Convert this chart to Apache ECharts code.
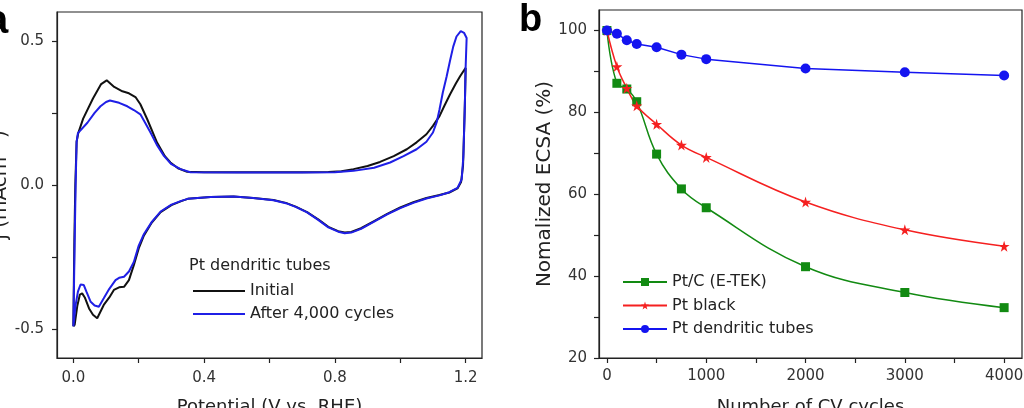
<!DOCTYPE html>
<html>
<head>
<meta charset="utf-8">
<script src="https://cdn.jsdelivr.net/npm/echarts@6/dist/echarts.min.js"></script>
<style>
  html, body { margin: 0; padding: 0; background: #fff; }
  #chart { width: 1024px; height: 408px; }
</style>
</head>
<body>
<div id="chart"></div>
<script>
// panel a: cyclic voltammograms, [potential V, current density mA/cm2]
const initialCurve = [
  [0.000,-0.49],[0.003,-0.20],[0.006,0.00],[0.010,0.15],[0.015,0.18],[0.030,0.23],[0.060,0.30],
  [0.085,0.35],[0.102,0.363],[0.125,0.34],[0.150,0.325],[0.170,0.318],[0.190,0.305],[0.205,0.28],
  [0.226,0.228],[0.256,0.147],[0.280,0.10],[0.297,0.078],[0.320,0.058],[0.348,0.046],[0.400,0.044],
  [0.500,0.044],[0.600,0.044],[0.700,0.044],[0.780,0.045],[0.820,0.048],[0.857,0.055],[0.900,0.066],
  [0.938,0.080],[0.980,0.100],[1.020,0.124],[1.050,0.148],[1.080,0.176],[1.100,0.205],[1.120,0.239],
  [1.135,0.275],[1.152,0.314],[1.170,0.352],[1.183,0.377],[1.195,0.398],[1.200,0.406],
  [1.198,0.30],[1.195,0.18],[1.192,0.067],[1.186,0.01],[1.175,-0.012],[1.150,-0.026],[1.120,-0.035],
  [1.080,-0.045],[1.040,-0.060],[1.000,-0.078],[0.960,-0.100],[0.920,-0.125],[0.880,-0.150],
  [0.850,-0.163],[0.830,-0.165],[0.810,-0.160],[0.780,-0.145],[0.750,-0.120],[0.715,-0.094],
  [0.680,-0.075],[0.650,-0.062],[0.612,-0.052],[0.550,-0.045],[0.490,-0.040],[0.420,-0.042],
  [0.350,-0.048],[0.330,-0.056],[0.300,-0.070],[0.267,-0.094],[0.240,-0.130],[0.216,-0.175],
  [0.200,-0.220],[0.185,-0.278],[0.170,-0.330],[0.155,-0.353],[0.140,-0.355],[0.124,-0.364],
  [0.110,-0.390],[0.093,-0.416],[0.073,-0.462],[0.060,-0.450],[0.048,-0.428],[0.035,-0.390],
  [0.027,-0.376],[0.020,-0.380],[0.012,-0.420],[0.004,-0.485],[0.000,-0.49]
];
const afterCurve = [
  [0.000,-0.49],[0.004,-0.20],[0.007,0.00],[0.010,0.15],[0.014,0.18],[0.043,0.216],[0.065,0.25],
  [0.083,0.273],[0.100,0.288],[0.112,0.293],[0.140,0.285],[0.165,0.273],[0.185,0.26],[0.205,0.245],
  [0.220,0.215],[0.236,0.182],[0.255,0.14],[0.277,0.101],[0.300,0.072],[0.328,0.055],[0.358,0.044],
  [0.500,0.043],[0.600,0.043],[0.700,0.043],[0.800,0.044],[0.857,0.049],[0.920,0.060],[0.969,0.078],
  [1.010,0.100],[1.050,0.124],[1.080,0.150],[1.100,0.182],[1.112,0.22],[1.120,0.262],[1.130,0.32],
  [1.142,0.377],[1.152,0.43],[1.162,0.48],[1.172,0.515],[1.185,0.534],[1.195,0.528],[1.203,0.51],
  [1.200,0.41],[1.197,0.25],[1.193,0.10],[1.188,0.02],[1.175,-0.01],[1.150,-0.025],[1.120,-0.036],
  [1.080,-0.047],[1.040,-0.062],[1.000,-0.080],[0.960,-0.102],[0.920,-0.127],[0.880,-0.152],
  [0.850,-0.165],[0.830,-0.167],[0.810,-0.162],[0.780,-0.147],[0.750,-0.122],[0.715,-0.095],
  [0.680,-0.076],[0.650,-0.063],[0.612,-0.053],[0.550,-0.045],[0.490,-0.040],[0.420,-0.042],
  [0.350,-0.048],[0.330,-0.055],[0.300,-0.068],[0.267,-0.092],[0.240,-0.128],[0.216,-0.170],
  [0.200,-0.210],[0.185,-0.267],[0.170,-0.300],[0.155,-0.318],[0.140,-0.322],[0.129,-0.330],
  [0.110,-0.360],[0.093,-0.393],[0.078,-0.422],[0.065,-0.418],[0.053,-0.405],[0.040,-0.370],
  [0.032,-0.347],[0.022,-0.345],[0.014,-0.370],[0.007,-0.416],[0.002,-0.470],[0.000,-0.49]
];
const cvNames = ['Initial', 'After 4,000 cycles'];

// panel b: normalized ECSA (%) vs number of CV cycles
const cycles = [0, 100, 200, 300, 500, 750, 1000, 2000, 3000, 4000];
const ptC = [100, 87.1, 85.7, 82.6, 69.8, 61.3, 56.7, 42.3, 36.0, 32.3];
const ptBlack = [100, 91.2, 85.9, 81.6, 77.1, 72.0, 69.0, 58.1, 51.3, 47.3];
const ptTubes = [100, 99.2, 97.6, 96.7, 95.9, 94.1, 93.0, 90.7, 89.8, 89.0];
const ecsaNames = ['Pt/C (E-TEK)', 'Pt black', 'Pt dendritic tubes'];

// ticks
const cvXTicks = [0, 0.2, 0.4, 0.6, 0.8, 1.0, 1.2];
const cvXLabels = [0, 0.4, 0.8, 1.2];
const cvYTicks = [-0.5, -0.25, 0, 0.25, 0.5];
const cvYLabels = [-0.5, 0, 0.5];
const cyXTicks = [0, 500, 1000, 1500, 2000, 2500, 3000, 3500, 4000];
const cyXLabels = [0, 1000, 2000, 3000, 4000];
const cyYTicks = [20, 30, 40, 50, 60, 70, 80, 90, 100];
const cyYLabels = [20, 40, 60, 80, 100];

const font = '"DejaVu Sans", sans-serif';
const axisCol = '#222';

function axis(extra, ticks, labels, fmt, margin) {
  return Object.assign({
    type: 'value',
    splitLine: { show: false },
    axisLine: { show: true, onZero: false, lineStyle: { color: axisCol, width: 1.2 } },
    axisTick: { show: true, length: 5, customValues: ticks, lineStyle: { color: axisCol, width: 1.2 } },
    axisLabel: { customValues: labels, formatter: fmt, color: '#333', fontSize: 15, fontFamily: font, margin: margin },
    nameTextStyle: { color: '#222', fontSize: 18, fontFamily: font }
  }, extra);
}

const pair = (xs, ys) => xs.map((x, i) => [x, ys[i]]);

const chart = echarts.init(document.getElementById('chart'));
chart.setOption({
  animation: false,
  grid: [
    { left: 57, top: 12, width: 425, height: 346, show: true, borderColor: axisCol, borderWidth: 1.2,
      outerBoundsMode: 'none', containLabel: false },
    { left: 599, top: 10, width: 423, height: 348, show: true, borderColor: axisCol, borderWidth: 1.2,
      outerBoundsMode: 'none', containLabel: false }
  ],
  xAxis: [
    axis({ gridIndex: 0, min: -0.05, max: 1.25, name: 'Potential (V vs. RHE)', nameLocation: 'middle', nameGap: 40 },
      cvXTicks, cvXLabels, v => v.toFixed(1), 13),
    axis({ gridIndex: 1, min: -80, max: 4180, name: 'Number of CV cycles', nameLocation: 'middle', nameGap: 40 },
      cyXTicks, cyXLabels, v => String(v), 11)
  ],
  yAxis: [
    axis({ gridIndex: 0, min: -0.6, max: 0.6, name: 'j (mAcm⁻²)', nameLocation: 'middle', nameGap: 45,
      nameTextStyle: { color: '#222', fontSize: 20, fontFamily: font } },
      cvYTicks, cvYLabels, v => v.toFixed(1), 13),
    axis({ gridIndex: 1, min: 20, max: 105, name: 'Nomalized ECSA (%)', nameLocation: 'middle', nameGap: 42,
      nameTextStyle: { color: '#222', fontSize: 20, fontFamily: font } },
      cyYTicks, cyYLabels, v => String(v), 12)
  ],
  legend: [
    {
      data: cvNames, left: 188, top: 278, orient: 'vertical', itemGap: 7,
      itemWidth: 52, itemHeight: 14, icon: 'path://M0,6.5 L52,6.5 L52,8.5 L0,8.5 Z',
      textStyle: { color: '#222', fontSize: 16, fontFamily: font }
    },
    {
      data: ecsaNames, left: 617, top: 269, orient: 'vertical', itemGap: 7.5,
      itemWidth: 44, itemHeight: 10,
      textStyle: { color: '#222', fontSize: 16, fontFamily: font }
    }
  ],
  graphic: [
    { type: 'text', left: 189, top: 258, style: { text: 'Pt dendritic tubes', fill: '#222', font: '16px ' + font } },
    { type: 'text', left: -14, top: 2, style: { text: 'a', fill: '#000', font: 'bold 40px Liberation Sans, Arial, sans-serif' } },
    { type: 'text', left: 519, top: 2, style: { text: 'b', fill: '#000', font: 'bold 38px Liberation Sans, Arial, sans-serif' } }
  ],
  series: [
    { name: cvNames[0], type: 'line', xAxisIndex: 0, yAxisIndex: 0, data: initialCurve, symbol: 'none',
      lineStyle: { color: '#111', width: 2 }, itemStyle: { color: '#111' } },
    { name: cvNames[1], type: 'line', xAxisIndex: 0, yAxisIndex: 0, data: afterCurve, symbol: 'none',
      lineStyle: { color: '#1f1fe6', width: 2 }, itemStyle: { color: '#1f1fe6' } },
    { name: ecsaNames[0], type: 'line', xAxisIndex: 1, yAxisIndex: 1, data: pair(cycles, ptC), smooth: 0.4,
      symbol: 'rect', symbolSize: 9, lineStyle: { color: '#128a12', width: 1.5 }, itemStyle: { color: '#128a12' } },
    { name: ecsaNames[1], type: 'line', xAxisIndex: 1, yAxisIndex: 1, data: pair(cycles, ptBlack), smooth: 0.4,
      symbol: 'path://M50,0 L61,35 L98,35 L68,57 L79,91 L50,70 L21,91 L32,57 L2,35 L39,35 Z', symbolSize: 11,
      lineStyle: { color: '#f52020', width: 1.5 }, itemStyle: { color: '#f52020' } },
    { name: ecsaNames[2], type: 'line', xAxisIndex: 1, yAxisIndex: 1, data: pair(cycles, ptTubes),
      symbol: 'circle', symbolSize: 10, lineStyle: { color: '#1414f0', width: 1.5 }, itemStyle: { color: '#1414f0' } }
  ]
});
</script>
</body>
</html>
